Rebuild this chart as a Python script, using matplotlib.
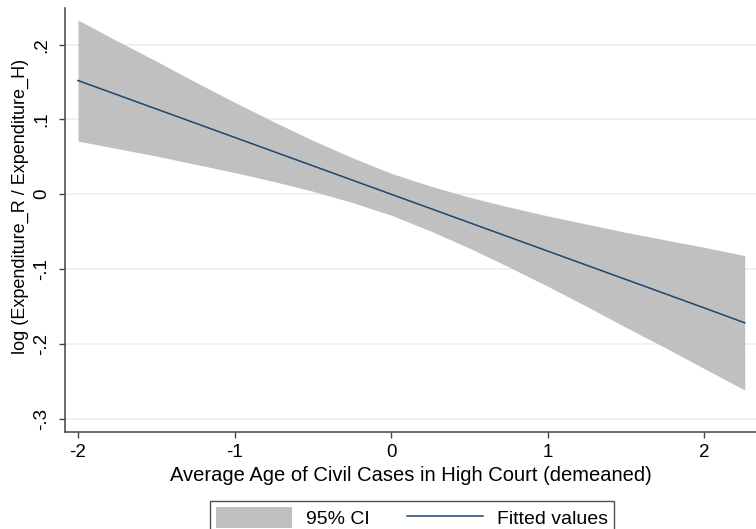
import matplotlib
matplotlib.use("Agg")
import matplotlib.pyplot as plt
from matplotlib.patches import Patch
from matplotlib.lines import Line2D

plt.rcParams['font.family'] = ['Liberation Sans', 'DejaVu Sans']

# values
x = [-2.0, -1.75, -1.5, -1.25, -1.0, -0.75, -0.5, -0.25, 0.0,
     0.25, 0.5, 0.75, 1.0, 1.25, 1.5, 1.75, 2.0, 2.26]
fitted = [0.152, 0.133, 0.114, 0.095, 0.076, 0.057, 0.038, 0.019, 0.0,
          -0.019, -0.038, -0.057, -0.076, -0.095, -0.114, -0.133, -0.152, -0.172]
ci_upper = [0.233, 0.205, 0.178, 0.150, 0.123, 0.097, 0.072, 0.049, 0.028,
            0.011, -0.004, -0.017, -0.029, -0.040, -0.051, -0.061, -0.071, -0.082]
ci_lower = [0.071, 0.061, 0.051, 0.040, 0.029, 0.017, 0.004, -0.011, -0.028,
            -0.049, -0.072, -0.097, -0.123, -0.150, -0.178, -0.205, -0.233, -0.262]

xticks = [-2, -1, 0, 1, 2]
xtick_labels = ['-2', '-1', '0', '1', '2']
yticks = [0.2, 0.1, 0.0, -0.1, -0.2, -0.3]
ytick_labels = ['.2', '.1', '0', '-.1', '-.2', '-.3']

fig = plt.figure(figsize=(7.56, 5.29), dpi=100)
ax = fig.add_axes([0.086, 0.1834, 0.914, 0.8015])

ax.fill_between(x, ci_lower, ci_upper, color='#c0c0c0', linewidth=0, zorder=2)
ax.plot(x, fitted, color='#1a476f', linewidth=1.1, zorder=3)

ax.set_xlim(-2.083, 2.332)
ax.set_ylim(-0.318, 0.249)

ax.set_xticks(xticks)
ax.set_xticklabels(xtick_labels)
ax.set_yticks(yticks)
ax.set_yticklabels(ytick_labels, rotation=90, va='center')

ax.grid(axis='y', color='#e8eff2', linewidth=1.2, zorder=0)
ax.set_axisbelow(True)

for s in ['top', 'right']:
    ax.spines[s].set_visible(False)
for s in ['left', 'bottom']:
    ax.spines[s].set_color('#444444')
    ax.spines[s].set_linewidth(1.1)

ax.tick_params(axis='both', labelsize=13.5, length=4.5, width=1, color='#444444')
ax.tick_params(axis='x', pad=4)
ax.tick_params(axis='y', pad=6)

ax.set_xlabel('Average Age of Civil Cases in High Court (demeaned)', fontsize=14.5, labelpad=4)
ax.set_ylabel('log (Expenditure_R / Expenditure_H)', fontsize=13)
ax.yaxis.set_label_coords(-0.052, 0.533)

handles = [Patch(facecolor='#c0c0c0', edgecolor='none'),
           Line2D([], [], color='#1a476f', linewidth=1.1)]
leg = fig.legend(handles, ['95% CI', 'Fitted values'], loc='upper center',
                 bbox_to_anchor=(0.545, 1 - 501 / 529), ncol=2, fontsize=14,
                 frameon=True, fancybox=False, edgecolor='#222222',
                 handlelength=3.9, handleheight=1.3, columnspacing=1.95,
                 borderpad=0.31, handletextpad=0.7, borderaxespad=0)
leg.get_frame().set_linewidth(1.0)

fig.savefig('out.png', dpi=100)
